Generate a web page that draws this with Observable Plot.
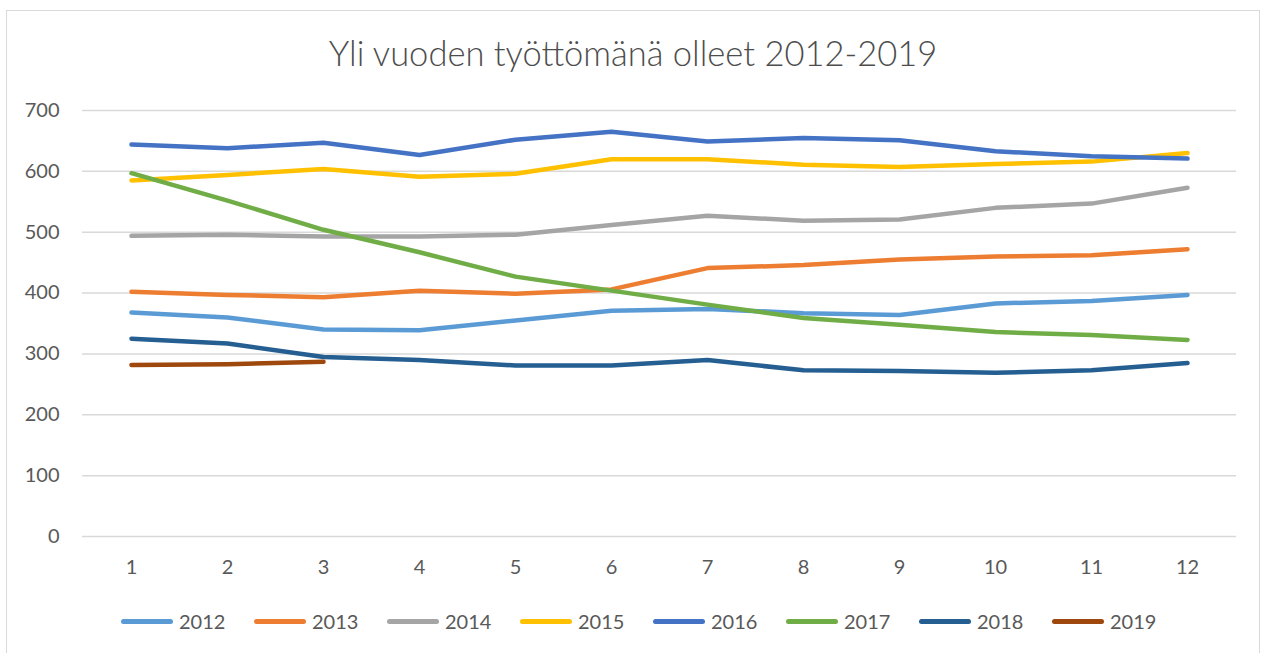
<!DOCTYPE html>
<html>
<head>
<meta charset="utf-8">
<script src="https://cdn.jsdelivr.net/npm/d3@7"></script>
<script src="https://cdn.jsdelivr.net/npm/@observablehq/plot@0.6"></script>
<style>
  html, body { margin: 0; padding: 0; background: #fff; }
  #wrap { position: relative; width: 1266px; height: 653px; overflow: hidden; font-family: Lato, "Open Sans", sans-serif; color: #595959; }
  #frame { position: absolute; left: 6px; top: 10px; width: 1254px; height: 700px; border: 1.5px solid #d9d9d9; box-sizing: border-box; }
  #title { position: absolute; left: 0; width: 1266px; top: 32px; text-align: center; font-size: 34.5px; font-weight: 300; color: #4d4d4d; }
  #chart { position: absolute; left: 0; top: 0; }
  #legend { position: absolute; top: 607px; left: 0; width: 1266px; height: 28px; }
  .item { position: absolute; top: 0; display: flex; align-items: center; height: 28px; font-size: 20px; color: #595959; }
  .sw { width: 52px; height: 5px; border-radius: 3px; margin-right: 6px; }
</style>
</head>
<body>
<div id="wrap">
  <div id="frame"></div>
  <div id="chart"></div>
  <div id="title">Yli vuoden työttömänä olleet 2012-2019</div>
  <div id="legend"></div>
</div>
<script>
const titleText = "Yli vuoden työttömänä olleet 2012-2019";
const months = [1, 2, 3, 4, 5, 6, 7, 8, 9, 10, 11, 12];
const yTicks = [0, 100, 200, 300, 400, 500, 600, 700];
const years = ["2012", "2013", "2014", "2015", "2016", "2017", "2018", "2019"];
const colors = ["#5b9bd5", "#ed7d31", "#a5a5a5", "#ffc000", "#4472c4", "#70ad47", "#255e91", "#9e480e"];

const s2012 = [368, 360, 340, 339, 355, 371, 374, 367, 364, 383, 387, 397];
const s2013 = [402, 397, 393, 404, 399, 406, 441, 446, 455, 460, 462, 472];
const s2014 = [494, 496, 493, 493, 496, 512, 527, 519, 521, 540, 547, 573];
const s2015 = [585, 594, 604, 591, 596, 620, 620, 611, 607, 612, 616, 630];
const s2016 = [644, 638, 647, 627, 652, 665, 649, 655, 651, 633, 625, 621];
const s2017 = [597, 552, 504, 467, 427, 404, 381, 359, 348, 336, 331, 323];
const s2018 = [325, 317, 295, 290, 281, 281, 290, 273, 272, 269, 273, 285];
const s2019 = [282, 283, 287];

const series = [s2012, s2013, s2014, s2015, s2016, s2017, s2018, s2019];
const data = [];
series.forEach((vals, i) => {
  vals.forEach((v, j) => data.push({year: years[i], month: months[j], value: v}));
});

const chart = Plot.plot({
  width: 1266,
  height: 600,
  marginTop: 110,
  marginBottom: 64,
  marginLeft: 82,
  marginRight: 30,
  style: { fontFamily: "Lato, 'Open Sans', sans-serif", color: "#595959", background: "transparent" },
  x: { type: "point", domain: months, padding: 0.5 },
  y: { domain: [0, 700] },
  color: { domain: years, range: colors },
  marks: [
    Plot.gridY(yTicks, { stroke: "#d9d9d9", strokeOpacity: 1, strokeWidth: 1.5 }),
    Plot.axisY(yTicks, { tickSize: 0, tickPadding: 23, fontSize: 20, fill: "#595959", label: null }),
    Plot.axisX(months, { tickSize: 0, tickPadding: 23, fontSize: 20, fill: "#595959", label: null }),
    Plot.line(data, { x: "month", y: "value", z: "year", stroke: "year", strokeWidth: 4.5, strokeLinecap: "round", strokeLinejoin: "round" })
  ]
});
document.getElementById("chart").appendChild(chart);

const legend = document.getElementById("legend");
years.forEach((y, i) => {
  const it = document.createElement("div");
  it.className = "item";
  it.style.left = (121 + i * 133) + "px";
  const sw = document.createElement("div");
  sw.className = "sw";
  sw.style.background = colors[i];
  const t = document.createElement("span");
  t.textContent = y;
  it.appendChild(sw);
  it.appendChild(t);
  legend.appendChild(it);
});
</script>
</body>
</html>
